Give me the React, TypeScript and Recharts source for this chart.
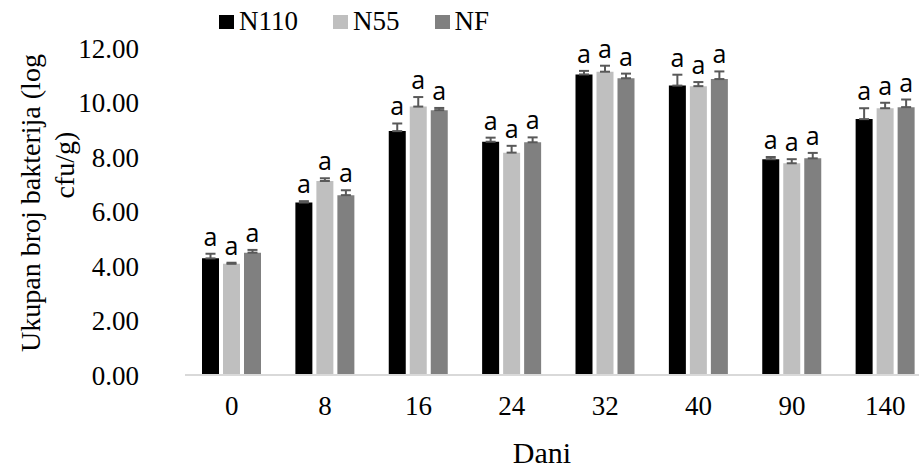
import { BarChart, Bar, XAxis, YAxis, ErrorBar, LabelList } from 'recharts';

const days = ['0', '8', '16', '24', '32', '40', '90', '140'];

const n110 = [4.28, 6.33, 8.95, 8.56, 11.03, 10.62, 7.92, 9.39];
const n110Err = [0.17, 0.05, 0.28, 0.15, 0.13, 0.4, 0.08, 0.4];
const n55 = [4.08, 7.12, 9.85, 8.16, 11.13, 10.6, 7.77, 9.79];
const n55Err = [0.04, 0.1, 0.35, 0.25, 0.22, 0.15, 0.15, 0.2];
const nf = [4.49, 6.6, 9.72, 8.54, 10.89, 10.86, 7.95, 9.83];
const nfErr = [0.1, 0.18, 0.08, 0.18, 0.17, 0.28, 0.2, 0.28];

const n110Sig = ['a', 'a', 'a', 'a', 'a', 'a', 'a', 'a'];
const n55Sig = ['a', 'a', 'a', 'a', 'a', 'a', 'a', 'a'];
const nfSig = ['a', 'a', 'a', 'a', 'a', 'a', 'a', 'a'];

const yTicks = [0, 2, 4, 6, 8, 10, 12];

const SERIES = [
  { key: 'n110', name: 'N110', color: '#000000', errs: n110Err, sig: n110Sig },
  { key: 'n55', name: 'N55', color: '#bfbfbf', errs: n55Err, sig: n55Sig },
  { key: 'nf', name: 'NF', color: '#808080', errs: nfErr, sig: nfSig },
];

const data = days.map((d, i) => ({
  day: d,
  n110: n110[i],
  n110E: [0, n110Err[i]],
  n55: n55[i],
  n55E: [0, n55Err[i]],
  nf: nf[i],
  nfE: [0, nfErr[i]],
}));

const SERIF = '"Liberation Serif", "Times New Roman", serif';

// letter above the error bar; pixel offset taken from the bar's own scale (height/value)
function makeLetter(errs: number[], sig: string[]) {
  return (props: any) => {
    const { x, y, width, height, value, index } = props;
    const h = Number(height);
    const v = Number(value);
    const perUnit = v ? h / v : 0;
    const top = Number(y) - errs[index] * perUnit;
    return (
      <text
        x={Number(x) + Number(width) / 2}
        y={top - 8}
        textAnchor="middle"
        fontFamily='"Open Sans", sans-serif'
        fontSize={25}
        fill="#000"
      >
        {sig[index]}
      </text>
    );
  };
}

const YTitle = () => (
  <g fontFamily={SERIF} fontSize={28} fill="#000">
    <text x={30} y={203} transform="rotate(-90, 30, 203)" textAnchor="middle" dominantBaseline="central">
      Ukupan broj bakterija (log
    </text>
    <text x={64} y={165} transform="rotate(-90, 64, 165)" textAnchor="middle" dominantBaseline="central">
      cfu/g)
    </text>
  </g>
);

const XTitle = (props: any) => {
  const vb = props.viewBox || {};
  return (
    <text x={542} y={Number(vb.y) + 88} textAnchor="middle" fontFamily={SERIF} fontSize={30} fill="#000">
      Dani
    </text>
  );
};

export default function App() {
  return (
    <div style={{ position: 'absolute', left: 0, top: 0, width: 919, height: 468, overflow: 'hidden', background: '#fff' }}>
      <div
        style={{
          position: 'absolute',
          left: 219,
          top: 6,
          display: 'flex',
          alignItems: 'center',
          fontFamily: SERIF,
          fontSize: 27,
          color: '#000',
          zIndex: 2,
        }}
      >
        {SERIES.map(s => (
          <div key={s.key} style={{ display: 'flex', alignItems: 'center', marginRight: 35 }}>
            <span style={{ display: 'inline-block', width: 15, height: 14, background: s.color, marginRight: 5 }} />
            <span>{s.name}</span>
          </div>
        ))}
      </div>
      <BarChart
        width={935}
        height={468}
        data={data}
        margin={{ top: 48, right: 3, bottom: 0, left: 120 }}
        barSize={17}
        barGap={4}
      >
        <XAxis
          dataKey="day"
          height={93}
          tickLine={false}
          tickSize={0}
          tickMargin={21}
          axisLine={{ stroke: '#d9d9d9', strokeWidth: 2 }}
          tick={{ fontFamily: SERIF, fontSize: 27, fill: '#000' }}
          label={{ content: XTitle }}
        />
        <YAxis
          width={65}
          domain={[0, 12]}
          ticks={yTicks}
          axisLine={false}
          tickLine={false}
          tickSize={0}
          tickMargin={46}
          tickFormatter={(v: number) => v.toFixed(2)}
          tick={{ fontFamily: SERIF, fontSize: 27, fill: '#000' }}
          label={{ content: YTitle }}
        />
        {SERIES.map(s => (
          <Bar key={s.key} dataKey={s.key} name={s.name} fill={s.color} isAnimationActive={false}>
            <ErrorBar dataKey={`${s.key}E`} width={5} stroke="#595959" strokeWidth={2} direction="y" />
            <LabelList dataKey={s.key} content={makeLetter(s.errs, s.sig)} />
          </Bar>
        ))}
      </BarChart>
    </div>
  );
}
